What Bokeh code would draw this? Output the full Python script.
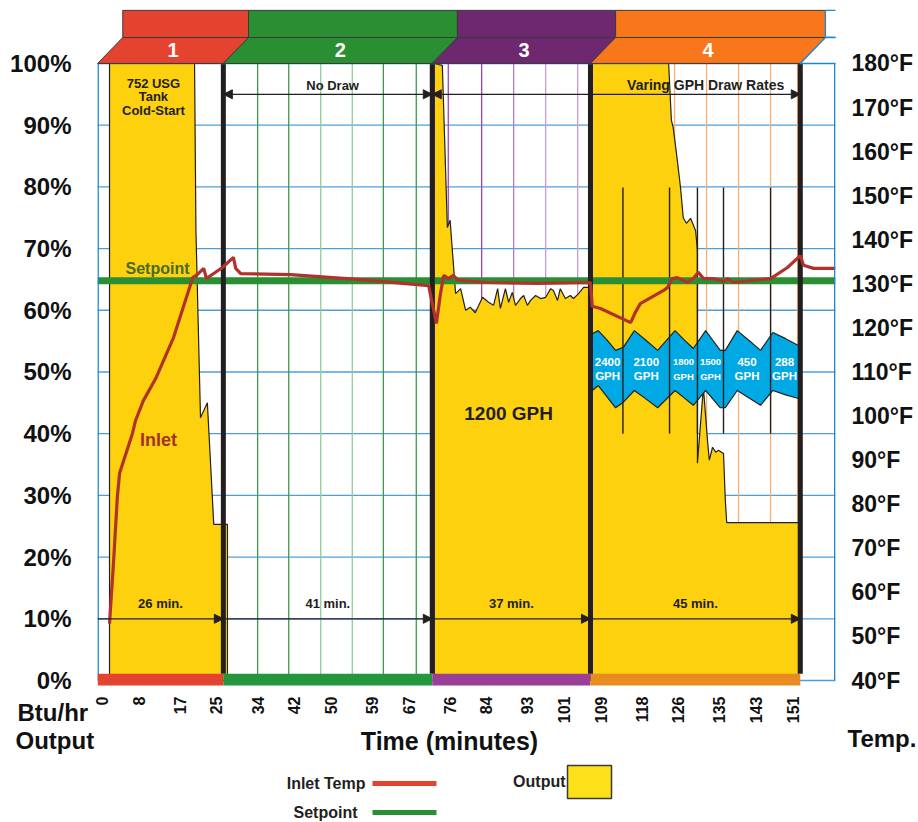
import math
from bokeh.plotting import figure
from bokeh.models import (Range1d, LinearAxis, FixedTicker, Label, Arrow, NormalHead,
                          PrintfTickFormatter)
from bokeh.layouts import column
from bokeh.embed import file_html
from bokeh.resources import INLINE

FONT = "Liberation Sans"
INK = "#231f20"
YELLOW = "#fdd10d"

# ---------------- data ----------------
x_ticks = [0, 8, 17, 25, 34, 42, 50, 59, 67, 76, 84, 93, 101, 109, 118, 126, 135, 143, 151]
pct_ticks = [0, 10, 20, 30, 40, 50, 60, 70, 80, 90, 100]
temp_ticks = [40, 50, 60, 70, 80, 90, 100, 110, 120, 130, 140, 150, 160, 170, 180]

section_names = ["1", "2", "3", "4"]
section_edges = [-1.0, 26.5, 72.2, 106.8, 152.7]
section_colors = ["#e4432f", "#2a8f33", "#6d2870", "#f8771a"]
bar_colors = ["#e4432f", "#23963e", "#9a3f98", "#e88b20"]
section_minutes = ["26 min.", "41 min.", "37 min.", "45 min."]

# Output (Btu/hr, % of max) per test phase
out1_t = [1.6, 1.6, 20.2, 20.5, 21.5, 23.0, 24.4, 27.4, 27.4]
out1_v = [0, 100, 100, 73.0, 42.6, 45.0, 25.3, 25.3, 0]

out3_t = [72.6, 72.6, 74.4, 75.5, 76.1, 77.3, 78.4, 79.5, 80.5, 81.6, 83.2, 84.5, 85.6,
          86.5, 87.1, 88.2, 88.9, 89.7, 90.4, 91.5, 92.2, 93.0, 93.7, 94.8, 95.9, 97.0,
          98.1, 98.7, 99.6, 100.2, 101.3, 102.4, 103.1, 104.2, 105.3, 106.2, 106.8, 106.8]
out3_v = [0, 100, 99.7, 73.4, 74.6, 62.7, 63.5, 60.0, 60.5, 59.6, 62.1, 61.3, 60.8,
          63.5, 60.3, 63.5, 61.3, 62.9, 60.8, 61.9, 62.4, 60.8, 61.6, 62.4, 61.9, 62.1,
          63.5, 63.2, 61.6, 63.5, 61.9, 62.4, 61.9, 62.7, 63.7, 63.7, 63.7, 0]

out4_t = [107.2, 107.2, 123.9, 124.5, 124.9, 125.8, 126.5, 127.1, 127.8, 128.7, 129.8,
          130.2, 130.2, 131.5, 132.4, 132.8, 133.5, 134.2, 134.8, 135.9, 136.3, 136.6,
          152.3, 152.3]
out4_v = [0, 100, 100, 90.8, 89.6, 84.3, 79.9, 75.0, 74.1, 74.9, 72.9,
          69.7, 35.2, 47.5, 38.9, 35.7, 37.8, 37.0, 37.3, 36.8, 29.2, 25.6,
          25.6, 0]

# Inlet temperature (deg F)
inlet_t = [1.6, 2.5, 3.3, 3.8, 4.7, 6.6, 7.3, 9.0, 11.7, 15.6, 19.8, 20.8, 22.2, 22.8,
           26.3, 28.7, 29.2, 30.3, 41.2, 55.8, 71.4, 73.1, 74.0, 74.7, 75.7, 76.8, 77.9,
           84.3, 95.2, 106.8, 107.2, 109.0, 115.6, 116.6, 117.7, 122.8, 123.7, 124.7,
           125.8, 128.0, 129.3, 130.4, 131.5, 133.7, 135.9, 136.8, 138.1, 146.2, 149.9,
           152.7, 153.4, 155.6, 160.4]
inlet_f = [52.9, 67.2, 81.5, 87.0, 89.9, 96.0, 99.0, 103.5, 108.5, 117.8, 131.4, 132.1,
           133.5, 131.2, 133.7, 136.0, 133.5, 132.3, 132.1, 131.0, 129.6, 121.0, 127.8,
           131.9, 131.2, 131.9, 130.8, 130.3, 130.1, 130.3, 124.9, 124.4, 121.2, 123.5,
           125.5, 128.5, 129.2, 131.2, 131.4, 130.3, 131.2, 132.6, 131.2, 131.2, 130.5,
           131.2, 130.3, 131.2, 133.7, 136.4, 134.2, 133.5, 133.5]
setpoint_f = 130.7

# Draw-rate band (phase 4)
gph_labels = ["2400", "2100", "1800", "1500", "450", "288"]
gph_dividers = [113.9, 124.1, 130.2, 135.9, 146.2]
divider_top, divider_bottom = 79.9, 40.0
wave_t = [107.2, 108.5, 110.4, 112.3, 114.0, 116.4, 119.0, 121.5, 125.3, 127.3, 129.3,
          132.0, 133.6, 135.2, 136.3, 138.9, 141.5, 144.0, 146.7, 149.5, 152.3]
wave_top = [56.2, 56.7, 55.2, 53.5, 54.0, 56.7, 55.1, 53.5, 56.7, 55.2, 53.8,
            56.7, 55.1, 53.5, 53.5, 56.7, 55.1, 53.5, 56.4, 55.4, 54.3]
wave_bot = [47.0, 47.8, 46.0, 44.2, 45.1, 47.0, 45.6, 44.2, 47.0, 45.8, 44.6,
            47.0, 45.6, 44.2, 44.2, 47.0, 45.8, 44.6, 47.0, 46.3, 45.7]

# grid (minutes) of each phase
grid2_t = [34.0, 40.8, 47.8, 54.7, 61.5, 68.7]
grid2_c = ["#3d9a4a", "#3d9a4a", "#8fcc98", "#8fcc98", "#3d9a4a", "#3d9a4a"]
grid3_t = [75.7, 83.0, 90.0, 97.0, 104.0]
grid3_c = ["#9c47b0", "#9c47b0", "#b77cc6", "#c99bd3", "#c99bd3"]
grid4_t = [111.2, 118.2, 125.2, 132.2, 139.2, 146.2, 152.1]
grid4_c = ["#f5b070"] * 7

# ---------------- main figure ----------------
X0, X1 = -1.03, 160.4
Y0, Y1 = -0.97, 110.2
p = figure(width=918, height=760, x_range=Range1d(X0, X1), y_range=Range1d(Y0, Y1),
           output_backend="svg", toolbar_location=None, frame_align=False,
           min_border_left=97, min_border_right=83, min_border_top=0, min_border_bottom=74)
p.extra_y_ranges = {"temp": Range1d(40 + 1.4 * Y0, 40 + 1.4 * Y1)}
p.grid.visible = False
p.outline_line_color = None
p.background_fill_color = "white"
p.border_fill_color = "white"

def style_axis(ax, size, standoff):
    ax.axis_line_color = None
    ax.major_tick_line_color = None
    ax.minor_tick_line_color = None
    ax.major_label_text_font = FONT
    ax.major_label_text_font_style = "bold"
    ax.major_label_text_font_size = size
    ax.major_label_text_color = "#111111"
    ax.major_label_standoff = standoff

p.xaxis.ticker = FixedTicker(ticks=x_ticks)
p.xaxis.major_label_orientation = math.pi / 2
style_axis(p.xaxis[0], "16px", 4)
p.yaxis.ticker = FixedTicker(ticks=pct_ticks)
p.yaxis.formatter = PrintfTickFormatter(format="%d%%")
style_axis(p.yaxis[0], "24px", 20)
rax = LinearAxis(y_range_name="temp", ticker=FixedTicker(ticks=temp_ticks),
                 formatter=PrintfTickFormatter(format="%d°F"))
style_axis(rax, "23px", 10)
p.add_layout(rax, "right")

# horizontal grid
p.segment(x0=[X0] * len(pct_ticks), x1=[X1] * len(pct_ticks), y0=pct_ticks, y1=pct_ticks,
          line_color="#3b93d9", line_width=1.3, line_alpha=0.9)
# vertical phase grids
for gt, gc in ((grid2_t, grid2_c), (grid3_t, grid3_c), (grid4_t, grid4_c)):
    p.segment(x0=gt, x1=gt, y0=[0] * len(gt), y1=[100] * len(gt), line_color=gc, line_width=1.3)

# output areas
for tt, vv in ((out1_t, out1_v), (out3_t, out3_v), (out4_t, out4_v)):
    p.patch(tt, vv, fill_color=YELLOW, line_color=INK, line_width=1.2)

# draw-rate band
p.patch(wave_t + wave_t[::-1], wave_top + wave_bot[::-1], fill_color="#00a9e3",
        line_color=INK, line_width=1.2)
p.segment(x0=gph_dividers, x1=gph_dividers, y0=[divider_bottom] * 5, y1=[divider_top] * 5,
          line_color=INK, line_width=1.4)
bounds = [wave_t[0]] + gph_dividers + [wave_t[-1]]
for i, g in enumerate(gph_labels):
    xm = (bounds[i] + bounds[i + 1]) / 2
    fs = "9.5px" if i in (2, 3) else "11.5px"
    for txt, yy in ((g, 51.6), ("GPH", 49.3)):
        p.add_layout(Label(x=xm, y=yy, text=txt, text_font=FONT, text_font_style="bold",
                           text_font_size=fs, text_color="white", text_align="center",
                           text_baseline="middle"))

# setpoint
p.line([X0, X1], [setpoint_f, setpoint_f], y_range_name="temp", line_color="#2a8f33", line_width=7)

# section separators
p.segment(x0=section_edges[1:], x1=section_edges[1:], y0=[1.1] * 4, y1=[100] * 4,
          line_color=INK, line_width=5)

# inlet temperature
p.line(inlet_t, inlet_f, y_range_name="temp", line_color="#b0322c", line_width=3.2)

# frame borders
p.line([X0 + 0.12, X0 + 0.12], [0, 100], line_color="#1b86d4", line_width=1.6)
p.line([X1 - 0.15, X1 - 0.15], [0, 100], line_color="#1b86d4", line_width=1.6)
p.line([X0, X1], [100, 100], line_color="#1b86d4", line_width=1.6)

# bottom coloured bar
p.quad(left=section_edges[:-1], right=section_edges[1:], bottom=-0.8, top=1.1,
       fill_color=bar_colors, line_color=None)

# banner
SH = 5.5
p.quad(left=[e + SH for e in section_edges[:-1]], right=[e + SH for e in section_edges[1:]],
       bottom=104.2, top=108.6, fill_color=section_colors, line_color="#3a3a3a", line_width=1)
p.patches(xs=[[section_edges[i], section_edges[i + 1], section_edges[i + 1] + SH, section_edges[i] + SH]
              for i in range(4)],
          ys=[[100, 100, 104.2, 104.2]] * 4, fill_color=section_colors, line_color="#3a3a3a",
          line_width=1)
p.quad(left=[section_edges[-1] + SH], right=[X1 + 8], bottom=104.2, top=108.6,
       fill_color="white", line_color="#1b86d4", line_width=1.3)
p.patch([section_edges[-1], X1 + 2, X1 + 8, section_edges[-1] + SH], [100, 100, 104.2, 104.2],
        fill_color="white", line_color="#1b86d4", line_width=1.3)
for i, n in enumerate(section_names):
    xm = (section_edges[i] + section_edges[i + 1]) / 2 + SH / 2
    p.add_layout(Label(x=xm, y=102.1, text=n, text_font=FONT, text_font_style="bold",
                       text_font_size="20px", text_color="white", text_align="center",
                       text_baseline="middle"))

def head():
    return NormalHead(size=9, fill_color=INK, line_color=INK)

# top arrows
p.add_layout(Arrow(start=head(), end=head(), x_start=section_edges[1], x_end=section_edges[2],
                   y_start=95.0, y_end=95.0, line_color=INK, line_width=1.3))
p.add_layout(Arrow(start=head(), end=head(), x_start=section_edges[2], x_end=section_edges[4],
                   y_start=95.0, y_end=95.0, line_color=INK, line_width=1.3))
# duration arrows
for i in range(4):
    p.add_layout(Arrow(end=head(), x_start=section_edges[i], x_end=section_edges[i + 1],
                       y_start=10.0, y_end=10.0, line_color=INK, line_width=1.3))
    p.add_layout(Label(x=(section_edges[i] + section_edges[i + 1]) / 2, y=12.5,
                       text=section_minutes[i], text_font=FONT, text_font_style="bold",
                       text_font_size="13px", text_color=INK, text_align="center",
                       text_baseline="middle"))

def lab(fig, x, y, text, size, color=INK, align="center"):
    fig.add_layout(Label(x=x, y=y, text=text, text_font=FONT, text_font_style="bold",
                         text_font_size=size, text_color=color, text_align=align,
                         text_baseline="middle"))

lab(p, 11.2, 96.8, "752 USG", "13px")
lab(p, 11.2, 94.6, "Tank", "13px")
lab(p, 11.2, 92.3, "Cold-Start", "13px")
lab(p, 50.4, 96.4, "No Draw", "13px")
lab(p, 132.0, 96.5, "Varing GPH Draw Rates", "14px")
lab(p, 88.9, 43.3, "1200 GPH", "19px")
lab(p, 12.3, 38.9, "Inlet", "18px", color="#a3312a")
lab(p, 12.1, 66.8, "Setpoint", "16px", color="#4a6b2a")

# ---------------- overlay with captions and legend (screen-like coordinates) ----------------
lg = figure(width=918, height=122, x_range=Range1d(0, 918), y_range=Range1d(822, 700),
            output_backend="svg", toolbar_location=None, min_border=0, frame_align=False,
            x_axis_location=None, y_axis_location=None, margin=(-60, 0, 0, 0))
lg.grid.visible = False
lg.outline_line_color = None
lg.background_fill_alpha = 0
lg.border_fill_alpha = 0

lab(lg, 17, 712, "Btu/hr", "24px", color="#111111", align="left")
lab(lg, 15, 740, "Output", "24px", color="#111111", align="left")
lab(lg, 449, 740, "Time (minutes)", "25px", color="#111111")
lab(lg, 847, 738, "Temp.", "24px", color="#111111", align="left")

lab(lg, 365, 783, "Inlet Temp", "16px", align="right")
lg.line([372, 436], [783, 783], line_color="#e4432f", line_width=5)
lab(lg, 357, 812, "Setpoint", "16px", align="right")
lg.line([372, 436], [812, 812], line_color="#2a8f33", line_width=5)
lab(lg, 565, 781, "Output", "16px", align="right")
lg.quad(left=[567], right=[611], bottom=[798], top=[765], fill_color="#fde01a",
        line_color="#3a3a3a", line_width=1.5)

layout = column(p, lg, spacing=0)
open("out.html", "w").write(file_html(layout, INLINE))
